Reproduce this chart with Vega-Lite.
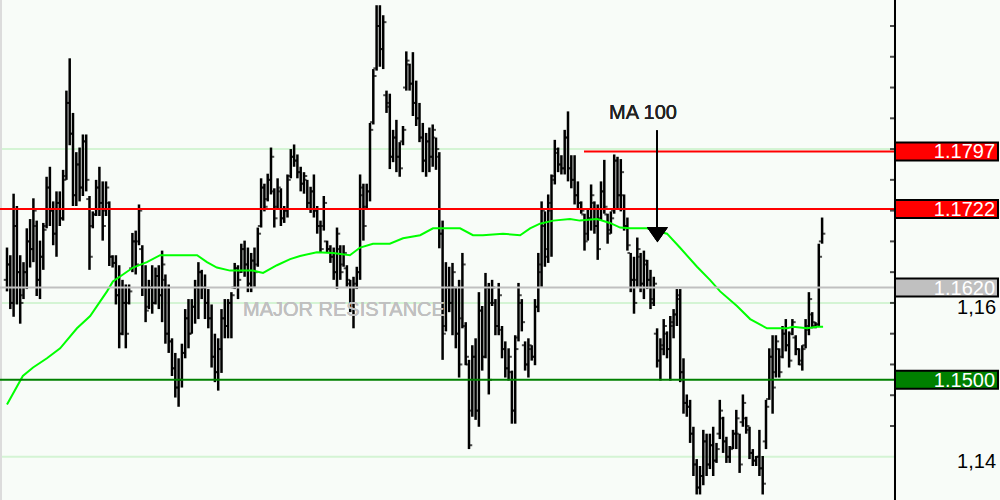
{
"$schema": "https://vega.github.io/schema/vega-lite/v6.json",
"width": 1000, "height": 500, "autosize": {"type": "none"}, "padding": 0,
"background": "#f8fcf8",
"config": {"view": {"stroke": null}, "font": "Liberation Sans"},
"datasets": {
"grid": [{"v":1.14},{"v":1.16},{"v":1.18}],
"axisticks": [{"v":1.144},{"v":1.148},{"v":1.152},{"v":1.156},{"v":1.16},{"v":1.164},{"v":1.168},{"v":1.172},{"v":1.176},{"v":1.18},{"v":1.184},{"v":1.188},{"v":1.192},{"v":1.196}],
"axislabels": [{"v":1.14},{"v":1.16}],
"levels": [{"name":"r2","v":1.1797},{"name":"r1","v":1.1722},{"name":"major","v":1.1620},{"name":"sup","v":1.1500}],
"ma": [{"t":0,"v":1.1468},{"t":4.8,"v":1.1505},{"t":7.9,"v":1.1516},{"t":12.1,"v":1.1528},{"t":16.1,"v":1.1541},{"t":21.2,"v":1.1567},{"t":25.2,"v":1.1583},{"t":30.3,"v":1.1615},{"t":32.1,"v":1.1628},{"t":38.2,"v":1.1646},{"t":42.4,"v":1.1653},{"t":46.4,"v":1.1662},{"t":57.6,"v":1.1662},{"t":60.6,"v":1.1653},{"t":63.6,"v":1.1646},{"t":67.6,"v":1.1642},{"t":74.5,"v":1.1642},{"t":77.6,"v":1.1639},{"t":81.8,"v":1.1649},{"t":85.8,"v":1.1657},{"t":88.8,"v":1.1661},{"t":93.9,"v":1.1666},{"t":98.8,"v":1.1665},{"t":103.9,"v":1.1662},{"t":107,"v":1.1672},{"t":110.9,"v":1.1677},{"t":116,"v":1.1677},{"t":120,"v":1.1684},{"t":125.2,"v":1.1688},{"t":129.1,"v":1.1697},{"t":137.3,"v":1.1697},{"t":141.2,"v":1.1688},{"t":144.2,"v":1.1688},{"t":150.3,"v":1.1690},{"t":155.5,"v":1.1688},{"t":158.5,"v":1.1697},{"t":161.5,"v":1.1703},{"t":165.5,"v":1.1707},{"t":170.6,"v":1.1709},{"t":173.6,"v":1.1707},{"t":178.8,"v":1.1709},{"t":182.7,"v":1.1704},{"t":185.8,"v":1.1698},{"t":188.8,"v":1.1697},{"t":193.9,"v":1.1697},{"t":200,"v":1.1690},{"t":203.9,"v":1.1672},{"t":209.1,"v":1.1647},{"t":213,"v":1.1630},{"t":216.1,"v":1.1615},{"t":221.2,"v":1.1596},{"t":225.2,"v":1.1579},{"t":230.3,"v":1.1567},{"t":236.4,"v":1.1567},{"t":238.2,"v":1.1569},{"t":242.4,"v":1.1567},{"t":245.5,"v":1.1569},{"t":247.3,"v":1.1569}],
"bars": [
{"i":0,"o":1.1630,"h":1.1672,"l":1.1615,"c":1.1650},
{"i":1,"o":1.1650,"h":1.1662,"l":1.1592,"c":1.1600},
{"i":2,"o":1.1600,"h":1.1742,"l":1.1582,"c":1.1700},
{"i":3,"o":1.1700,"h":1.1726,"l":1.1598,"c":1.1640},
{"i":4,"o":1.1640,"h":1.1662,"l":1.1573,"c":1.1600},
{"i":5,"o":1.1610,"h":1.1653,"l":1.1605,"c":1.1640},
{"i":6,"o":1.1640,"h":1.1697,"l":1.1618,"c":1.1680},
{"i":7,"o":1.1680,"h":1.1709,"l":1.1646,"c":1.1670},
{"i":8,"o":1.1670,"h":1.1736,"l":1.1653,"c":1.1720},
{"i":9,"o":1.1700,"h":1.1707,"l":1.1609,"c":1.1630},
{"i":10,"o":1.1630,"h":1.1681,"l":1.1605,"c":1.1660},
{"i":11,"o":1.1660,"h":1.1704,"l":1.1643,"c":1.1695},
{"i":12,"o":1.1700,"h":1.1764,"l":1.1697,"c":1.1750},
{"i":13,"o":1.1750,"h":1.1777,"l":1.1700,"c":1.1720},
{"i":14,"o":1.1720,"h":1.1732,"l":1.1675,"c":1.1690},
{"i":15,"o":1.1690,"h":1.1745,"l":1.1660,"c":1.1730},
{"i":16,"o":1.1730,"h":1.1745,"l":1.1700,"c":1.1710},
{"i":17,"o":1.1710,"h":1.1773,"l":1.1707,"c":1.1760},
{"i":18,"o":1.1765,"h":1.1876,"l":1.1760,"c":1.1860},
{"i":19,"o":1.1860,"h":1.1918,"l":1.1805,"c":1.1820},
{"i":20,"o":1.1820,"h":1.1847,"l":1.1726,"c":1.1740},
{"i":21,"o":1.1740,"h":1.1796,"l":1.1726,"c":1.1780},
{"i":22,"o":1.1780,"h":1.1802,"l":1.1732,"c":1.1750},
{"i":23,"o":1.1750,"h":1.1819,"l":1.1739,"c":1.1810},
{"i":24,"o":1.1810,"h":1.1819,"l":1.1745,"c":1.1760},
{"i":25,"o":1.1735,"h":1.1739,"l":1.1643,"c":1.1660},
{"i":26,"o":1.1700,"h":1.1719,"l":1.1697,"c":1.1715},
{"i":27,"o":1.1715,"h":1.1760,"l":1.1713,"c":1.1750},
{"i":28,"o":1.1750,"h":1.1777,"l":1.1713,"c":1.1730},
{"i":29,"o":1.1730,"h":1.1758,"l":1.1681,"c":1.1700},
{"i":30,"o":1.1720,"h":1.1758,"l":1.1713,"c":1.1750},
{"i":31,"o":1.1730,"h":1.1732,"l":1.1648,"c":1.1660},
{"i":32,"o":1.1660,"h":1.1662,"l":1.1646,"c":1.1652},
{"i":33,"o":1.1652,"h":1.1662,"l":1.1598,"c":1.1610},
{"i":34,"o":1.1610,"h":1.1649,"l":1.1541,"c":1.1560},
{"i":35,"o":1.1560,"h":1.1630,"l":1.1558,"c":1.1600},
{"i":36,"o":1.1600,"h":1.1624,"l":1.1541,"c":1.1560},
{"i":37,"o":1.1600,"h":1.1624,"l":1.1598,"c":1.1615},
{"i":38,"o":1.1645,"h":1.1691,"l":1.1640,"c":1.1680},
{"i":39,"o":1.1680,"h":1.1694,"l":1.1637,"c":1.1650},
{"i":40,"o":1.1680,"h":1.1728,"l":1.1675,"c":1.1720},
{"i":41,"o":1.1670,"h":1.1675,"l":1.1609,"c":1.1620},
{"i":42,"o":1.1620,"h":1.1649,"l":1.1575,"c":1.1590},
{"i":43,"o":1.1595,"h":1.1630,"l":1.1592,"c":1.1620},
{"i":44,"o":1.1620,"h":1.1649,"l":1.1586,"c":1.1600},
{"i":45,"o":1.1600,"h":1.1646,"l":1.1598,"c":1.1635},
{"i":46,"o":1.1635,"h":1.1649,"l":1.1592,"c":1.1610},
{"i":47,"o":1.1610,"h":1.1668,"l":1.1575,"c":1.1650},
{"i":48,"o":1.1630,"h":1.1637,"l":1.1547,"c":1.1560},
{"i":49,"o":1.1560,"h":1.1624,"l":1.1535,"c":1.1550},
{"i":50,"o":1.1550,"h":1.1554,"l":1.1505,"c":1.1515},
{"i":51,"o":1.1515,"h":1.1535,"l":1.1477,"c":1.1490},
{"i":52,"o":1.1490,"h":1.1528,"l":1.1465,"c":1.1500},
{"i":53,"o":1.1500,"h":1.1547,"l":1.1490,"c":1.1535},
{"i":54,"o":1.1535,"h":1.1592,"l":1.1528,"c":1.1580},
{"i":55,"o":1.1580,"h":1.1605,"l":1.1541,"c":1.1560},
{"i":56,"o":1.1560,"h":1.1605,"l":1.1560,"c":1.1595},
{"i":57,"o":1.1595,"h":1.1630,"l":1.1573,"c":1.1620},
{"i":58,"o":1.1620,"h":1.1653,"l":1.1579,"c":1.1640},
{"i":59,"o":1.1640,"h":1.1643,"l":1.1605,"c":1.1620},
{"i":60,"o":1.1620,"h":1.1637,"l":1.1579,"c":1.1600},
{"i":61,"o":1.1600,"h":1.1618,"l":1.1567,"c":1.1580},
{"i":62,"o":1.1580,"h":1.1598,"l":1.1516,"c":1.1530},
{"i":63,"o":1.1530,"h":1.1560,"l":1.1497,"c":1.1510},
{"i":64,"o":1.1510,"h":1.1554,"l":1.1486,"c":1.1540},
{"i":65,"o":1.1540,"h":1.1592,"l":1.1509,"c":1.1580},
{"i":66,"o":1.1580,"h":1.1605,"l":1.1554,"c":1.1570},
{"i":67,"o":1.1570,"h":1.1605,"l":1.1554,"c":1.1600},
{"i":68,"o":1.1600,"h":1.1614,"l":1.1554,"c":1.1610},
{"i":69,"o":1.1620,"h":1.1652,"l":1.1618,"c":1.1645},
{"i":70,"o":1.1645,"h":1.1649,"l":1.1605,"c":1.1630},
{"i":71,"o":1.1640,"h":1.1677,"l":1.1639,"c":1.1670},
{"i":72,"o":1.1670,"h":1.1681,"l":1.1634,"c":1.1650},
{"i":73,"o":1.1650,"h":1.1672,"l":1.1614,"c":1.1625},
{"i":74,"o":1.1625,"h":1.1665,"l":1.1614,"c":1.1655},
{"i":75,"o":1.1655,"h":1.1672,"l":1.1621,"c":1.1640},
{"i":76,"o":1.1650,"h":1.1698,"l":1.1647,"c":1.1690},
{"i":77,"o":1.1700,"h":1.1762,"l":1.1698,"c":1.1750},
{"i":78,"o":1.1750,"h":1.1755,"l":1.1719,"c":1.1725},
{"i":79,"o":1.1735,"h":1.1768,"l":1.1732,"c":1.1760},
{"i":80,"o":1.1760,"h":1.1802,"l":1.1741,"c":1.1790},
{"i":81,"o":1.1745,"h":1.1749,"l":1.1698,"c":1.1710},
{"i":82,"o":1.1725,"h":1.1762,"l":1.1723,"c":1.1750},
{"i":83,"o":1.1745,"h":1.1749,"l":1.1700,"c":1.1710},
{"i":84,"o":1.1710,"h":1.1726,"l":1.1704,"c":1.1720},
{"i":85,"o":1.1720,"h":1.1767,"l":1.1711,"c":1.1760},
{"i":86,"o":1.1765,"h":1.1800,"l":1.1762,"c":1.1790},
{"i":87,"o":1.1790,"h":1.1806,"l":1.1777,"c":1.1785},
{"i":88,"o":1.1785,"h":1.1793,"l":1.1762,"c":1.1770},
{"i":89,"o":1.1770,"h":1.1777,"l":1.1745,"c":1.1755},
{"i":90,"o":1.1755,"h":1.1770,"l":1.1742,"c":1.1765},
{"i":91,"o":1.1760,"h":1.1760,"l":1.1723,"c":1.1730},
{"i":92,"o":1.1730,"h":1.1751,"l":1.1717,"c":1.1745},
{"i":93,"o":1.1745,"h":1.1767,"l":1.1711,"c":1.1720},
{"i":94,"o":1.1720,"h":1.1726,"l":1.1690,"c":1.1700},
{"i":95,"o":1.1700,"h":1.1707,"l":1.1665,"c":1.1670},
{"i":96,"o":1.1700,"h":1.1739,"l":1.1694,"c":1.1730},
{"i":97,"o":1.1680,"h":1.1681,"l":1.1665,"c":1.1670},
{"i":98,"o":1.1670,"h":1.1675,"l":1.1652,"c":1.1660},
{"i":99,"o":1.1660,"h":1.1672,"l":1.1630,"c":1.1640},
{"i":100,"o":1.1640,"h":1.1698,"l":1.1618,"c":1.1690},
{"i":101,"o":1.1670,"h":1.1675,"l":1.1630,"c":1.1640},
{"i":102,"o":1.1650,"h":1.1675,"l":1.1647,"c":1.1665},
{"i":103,"o":1.1645,"h":1.1649,"l":1.1621,"c":1.1630},
{"i":104,"o":1.1625,"h":1.1630,"l":1.1588,"c":1.1600},
{"i":105,"o":1.1600,"h":1.1634,"l":1.1567,"c":1.1620},
{"i":106,"o":1.1625,"h":1.1647,"l":1.1618,"c":1.1640},
{"i":107,"o":1.1640,"h":1.1767,"l":1.1630,"c":1.1750},
{"i":108,"o":1.1740,"h":1.1755,"l":1.1681,"c":1.1700},
{"i":109,"o":1.1725,"h":1.1755,"l":1.1723,"c":1.1745},
{"i":110,"o":1.1745,"h":1.1834,"l":1.1732,"c":1.1825},
{"i":111,"o":1.1835,"h":1.1904,"l":1.1832,"c":1.1895},
{"i":112,"o":1.1905,"h":1.1987,"l":1.1902,"c":1.1960},
{"i":113,"o":1.1960,"h":1.1987,"l":1.1907,"c":1.1930},
{"i":114,"o":1.1930,"h":1.1974,"l":1.1904,"c":1.1965},
{"i":115,"o":1.1870,"h":1.1876,"l":1.1847,"c":1.1855},
{"i":116,"o":1.1860,"h":1.1872,"l":1.1774,"c":1.1790},
{"i":117,"o":1.1790,"h":1.1825,"l":1.1783,"c":1.1815},
{"i":118,"o":1.1815,"h":1.1838,"l":1.1770,"c":1.1790},
{"i":119,"o":1.1790,"h":1.1809,"l":1.1764,"c":1.1775},
{"i":120,"o":1.1810,"h":1.1830,"l":1.1805,"c":1.1825},
{"i":121,"o":1.1880,"h":1.1927,"l":1.1876,"c":1.1915},
{"i":122,"o":1.1910,"h":1.1911,"l":1.1876,"c":1.1885},
{"i":123,"o":1.1885,"h":1.1926,"l":1.1843,"c":1.1860},
{"i":124,"o":1.1860,"h":1.1889,"l":1.1830,"c":1.1840},
{"i":125,"o":1.1840,"h":1.1860,"l":1.1809,"c":1.1815},
{"i":126,"o":1.1815,"h":1.1834,"l":1.1770,"c":1.1785},
{"i":127,"o":1.1785,"h":1.1821,"l":1.1764,"c":1.1810},
{"i":128,"o":1.1810,"h":1.1828,"l":1.1770,"c":1.1790},
{"i":129,"o":1.1790,"h":1.1832,"l":1.1777,"c":1.1825},
{"i":130,"o":1.1815,"h":1.1815,"l":1.1773,"c":1.1800},
{"i":131,"o":1.1790,"h":1.1796,"l":1.1671,"c":1.1690},
{"i":132,"o":1.1690,"h":1.1707,"l":1.1526,"c":1.1560},
{"i":133,"o":1.1570,"h":1.1653,"l":1.1563,"c":1.1620},
{"i":134,"o":1.1620,"h":1.1647,"l":1.1588,"c":1.1600},
{"i":135,"o":1.1600,"h":1.1652,"l":1.1558,"c":1.1640},
{"i":136,"o":1.1620,"h":1.1621,"l":1.1541,"c":1.1560},
{"i":137,"o":1.1560,"h":1.1630,"l":1.1503,"c":1.1520},
{"i":138,"o":1.1580,"h":1.1665,"l":1.1567,"c":1.1650},
{"i":139,"o":1.1570,"h":1.1575,"l":1.1519,"c":1.1530},
{"i":140,"o":1.1520,"h":1.1526,"l":1.1410,"c":1.1415},
{"i":141,"o":1.1460,"h":1.1545,"l":1.1452,"c":1.1530},
{"i":142,"o":1.1530,"h":1.1554,"l":1.1448,"c":1.1460},
{"i":143,"o":1.1460,"h":1.1614,"l":1.1439,"c":1.1590},
{"i":144,"o":1.1590,"h":1.1596,"l":1.1512,"c":1.1530},
{"i":145,"o":1.1530,"h":1.1639,"l":1.1528,"c":1.1620},
{"i":146,"o":1.1620,"h":1.1626,"l":1.1481,"c":1.1500},
{"i":147,"o":1.1600,"h":1.1630,"l":1.1596,"c":1.1620},
{"i":148,"o":1.1600,"h":1.1605,"l":1.1558,"c":1.1570},
{"i":149,"o":1.1570,"h":1.1626,"l":1.1558,"c":1.1610},
{"i":150,"o":1.1565,"h":1.1570,"l":1.1528,"c":1.1540},
{"i":151,"o":1.1540,"h":1.1550,"l":1.1503,"c":1.1515},
{"i":152,"o":1.1515,"h":1.1541,"l":1.1499,"c":1.1530},
{"i":153,"o":1.1510,"h":1.1512,"l":1.1443,"c":1.1460},
{"i":154,"o":1.1460,"h":1.1558,"l":1.1443,"c":1.1540},
{"i":155,"o":1.1555,"h":1.1626,"l":1.1550,"c":1.1610},
{"i":156,"o":1.1600,"h":1.1605,"l":1.1563,"c":1.1575},
{"i":157,"o":1.1545,"h":1.1550,"l":1.1512,"c":1.1520},
{"i":158,"o":1.1520,"h":1.1554,"l":1.1503,"c":1.1545},
{"i":159,"o":1.1540,"h":1.1545,"l":1.1525,"c":1.1530},
{"i":160,"o":1.1530,"h":1.1605,"l":1.1519,"c":1.1595},
{"i":161,"o":1.1595,"h":1.1665,"l":1.1588,"c":1.1650},
{"i":162,"o":1.1640,"h":1.1732,"l":1.1621,"c":1.1720},
{"i":163,"o":1.1700,"h":1.1719,"l":1.1647,"c":1.1660},
{"i":164,"o":1.1670,"h":1.1741,"l":1.1652,"c":1.1730},
{"i":165,"o":1.1720,"h":1.1767,"l":1.1660,"c":1.1760},
{"i":166,"o":1.1765,"h":1.1812,"l":1.1754,"c":1.1800},
{"i":167,"o":1.1795,"h":1.1802,"l":1.1770,"c":1.1780},
{"i":168,"o":1.1780,"h":1.1792,"l":1.1767,"c":1.1775},
{"i":169,"o":1.1775,"h":1.1825,"l":1.1767,"c":1.1815},
{"i":170,"o":1.1815,"h":1.1849,"l":1.1758,"c":1.1775},
{"i":171,"o":1.1775,"h":1.1792,"l":1.1749,"c":1.1760},
{"i":172,"o":1.1760,"h":1.1792,"l":1.1728,"c":1.1740},
{"i":173,"o":1.1740,"h":1.1758,"l":1.1723,"c":1.1730},
{"i":174,"o":1.1730,"h":1.1732,"l":1.1716,"c":1.1720},
{"i":175,"o":1.1715,"h":1.1716,"l":1.1668,"c":1.1680},
{"i":176,"o":1.1690,"h":1.1723,"l":1.1681,"c":1.1710},
{"i":177,"o":1.1710,"h":1.1754,"l":1.1694,"c":1.1740},
{"i":178,"o":1.1730,"h":1.1732,"l":1.1690,"c":1.1700},
{"i":179,"o":1.1700,"h":1.1728,"l":1.1656,"c":1.1670},
{"i":180,"o":1.1710,"h":1.1758,"l":1.1707,"c":1.1745},
{"i":181,"o":1.1745,"h":1.1786,"l":1.1716,"c":1.1725},
{"i":182,"o":1.1715,"h":1.1716,"l":1.1677,"c":1.1690},
{"i":183,"o":1.1695,"h":1.1719,"l":1.1690,"c":1.1710},
{"i":184,"o":1.1720,"h":1.1793,"l":1.1716,"c":1.1785},
{"i":185,"o":1.1785,"h":1.1790,"l":1.1723,"c":1.1740},
{"i":186,"o":1.1740,"h":1.1787,"l":1.1719,"c":1.1770},
{"i":187,"o":1.1740,"h":1.1741,"l":1.1694,"c":1.1700},
{"i":188,"o":1.1700,"h":1.1711,"l":1.1668,"c":1.1675},
{"i":189,"o":1.1665,"h":1.1665,"l":1.1614,"c":1.1630},
{"i":190,"o":1.1630,"h":1.1660,"l":1.1586,"c":1.1600},
{"i":191,"o":1.1630,"h":1.1685,"l":1.1621,"c":1.1670},
{"i":192,"o":1.1660,"h":1.1665,"l":1.1614,"c":1.1625},
{"i":193,"o":1.1625,"h":1.1668,"l":1.1605,"c":1.1655},
{"i":194,"o":1.1650,"h":1.1656,"l":1.1618,"c":1.1630},
{"i":195,"o":1.1630,"h":1.1643,"l":1.1592,"c":1.1600},
{"i":196,"o":1.1605,"h":1.1634,"l":1.1596,"c":1.1625},
{"i":197,"o":1.1560,"h":1.1567,"l":1.1516,"c":1.1525},
{"i":198,"o":1.1525,"h":1.1554,"l":1.1499,"c":1.1545},
{"i":199,"o":1.1540,"h":1.1579,"l":1.1532,"c":1.1570},
{"i":200,"o":1.1560,"h":1.1563,"l":1.1528,"c":1.1540},
{"i":201,"o":1.1540,"h":1.1583,"l":1.1499,"c":1.1575},
{"i":202,"o":1.1570,"h":1.1592,"l":1.1554,"c":1.1585},
{"i":203,"o":1.1585,"h":1.1618,"l":1.1570,"c":1.1610},
{"i":204,"o":1.1605,"h":1.1618,"l":1.1497,"c":1.1510},
{"i":205,"o":1.1510,"h":1.1528,"l":1.1456,"c":1.1470},
{"i":206,"o":1.1470,"h":1.1481,"l":1.1452,"c":1.1465},
{"i":207,"o":1.1465,"h":1.1474,"l":1.1418,"c":1.1430},
{"i":208,"o":1.1430,"h":1.1439,"l":1.1375,"c":1.1390},
{"i":209,"o":1.1390,"h":1.1397,"l":1.1351,"c":1.1360},
{"i":210,"o":1.1360,"h":1.1388,"l":1.1351,"c":1.1375},
{"i":211,"o":1.1375,"h":1.1435,"l":1.1363,"c":1.1420},
{"i":212,"o":1.1420,"h":1.1430,"l":1.1375,"c":1.1390},
{"i":213,"o":1.1390,"h":1.1430,"l":1.1384,"c":1.1415},
{"i":214,"o":1.1415,"h":1.1439,"l":1.1375,"c":1.1395},
{"i":215,"o":1.1395,"h":1.1418,"l":1.1392,"c":1.1410},
{"i":216,"o":1.1430,"h":1.1474,"l":1.1423,"c":1.1460},
{"i":217,"o":1.1450,"h":1.1452,"l":1.1405,"c":1.1420},
{"i":218,"o":1.1420,"h":1.1426,"l":1.1392,"c":1.1400},
{"i":219,"o":1.1400,"h":1.1414,"l":1.1392,"c":1.1410},
{"i":220,"o":1.1412,"h":1.1435,"l":1.1410,"c":1.1430},
{"i":221,"o":1.1430,"h":1.1461,"l":1.1410,"c":1.1450},
{"i":222,"o":1.1430,"h":1.1430,"l":1.1379,"c":1.1390},
{"i":223,"o":1.1445,"h":1.1481,"l":1.1439,"c":1.1470},
{"i":224,"o":1.1450,"h":1.1452,"l":1.1430,"c":1.1440},
{"i":225,"o":1.1435,"h":1.1439,"l":1.1397,"c":1.1405},
{"i":226,"o":1.1405,"h":1.1410,"l":1.1388,"c":1.1395},
{"i":227,"o":1.1395,"h":1.1401,"l":1.1388,"c":1.1400},
{"i":228,"o":1.1400,"h":1.1435,"l":1.1375,"c":1.1385},
{"i":229,"o":1.1385,"h":1.1401,"l":1.1351,"c":1.1365},
{"i":230,"o":1.1420,"h":1.1474,"l":1.1410,"c":1.1465},
{"i":231,"o":1.1475,"h":1.1541,"l":1.1474,"c":1.1530},
{"i":232,"o":1.1530,"h":1.1558,"l":1.1456,"c":1.1490},
{"i":233,"o":1.1510,"h":1.1558,"l":1.1503,"c":1.1550},
{"i":234,"o":1.1540,"h":1.1541,"l":1.1503,"c":1.1510},
{"i":235,"o":1.1530,"h":1.1570,"l":1.1528,"c":1.1560},
{"i":236,"o":1.1560,"h":1.1579,"l":1.1537,"c":1.1545},
{"i":237,"o":1.1545,"h":1.1563,"l":1.1516,"c":1.1525},
{"i":238,"o":1.1560,"h":1.1579,"l":1.1558,"c":1.1575},
{"i":239,"o":1.1555,"h":1.1558,"l":1.1532,"c":1.1540},
{"i":240,"o":1.1540,"h":1.1541,"l":1.1519,"c":1.1525},
{"i":241,"o":1.1520,"h":1.1545,"l":1.1512,"c":1.1540},
{"i":242,"o":1.1545,"h":1.1579,"l":1.1541,"c":1.1570},
{"i":243,"o":1.1565,"h":1.1614,"l":1.1558,"c":1.1605},
{"i":244,"o":1.1585,"h":1.1588,"l":1.1567,"c":1.1575},
{"i":245,"o":1.1570,"h":1.1575,"l":1.1567,"c":1.1572},
{"i":246,"o":1.1572,"h":1.1677,"l":1.1570,"c":1.1660},
{"i":247,"o":1.1680,"h":1.1711,"l":1.1677,"c":1.1690}
]
},
"layer": [
{"data": {"name": "grid"},
 "mark": {"type": "rule", "color": "#d4f4d4", "strokeWidth": 2},
 "encoding": {
  "x": {"datum": -2.1212, "scale": {"domain": [-2.1212, 300.9091], "nice": false, "zero": false}, "axis": null},
  "x2": {"datum": 269.09},
  "y": {"field": "v", "type": "quantitative", "scale": {"domain": [1.13503, 1.19873], "nice": false, "zero": false}, "axis": null}
 }},
{"data": {"name": "grid"},
 "mark": {"type": "rule", "color": "#dcdcdc", "strokeWidth": 2},
 "encoding": {"x": {"datum": -1.818}}},
{"data": {"name": "bars"},
 "mark": {"type": "rule", "color": "#000000", "strokeWidth": 2.5},
 "encoding": {
  "x": {"field": "i", "type": "quantitative"},
  "y": {"field": "h", "type": "quantitative", "axis": null},
  "y2": {"field": "l"}}},
{"data": {"name": "bars"},
 "mark": {"type": "tick", "orient": "horizontal", "color": "#000000", "size": 2.5, "thickness": 2, "xOffset": -2},
 "encoding": {
  "x": {"field": "i", "type": "quantitative"},
  "y": {"field": "o", "type": "quantitative", "axis": null}}},
{"data": {"name": "bars"},
 "mark": {"type": "tick", "orient": "horizontal", "color": "#000000", "size": 2.5, "thickness": 2, "xOffset": 2},
 "encoding": {
  "x": {"field": "i", "type": "quantitative"},
  "y": {"field": "c", "type": "quantitative", "axis": null}}},
{"data": {"name": "ma"},
 "mark": {"type": "line", "color": "#00ff00", "strokeWidth": 2},
 "encoding": {
  "x": {"field": "t", "type": "quantitative"},
  "y": {"field": "v", "type": "quantitative", "axis": null}}},
{"data": {"name": "levels"},
 "transform": [{"filter": "datum.name != 'r2'"}],
 "mark": {"type": "rule"},
 "encoding": {
  "x": {"datum": -2.1212}, "x2": {"datum": 269.09},
  "y": {"field": "v", "type": "quantitative", "axis": null},
  "color": {"field": "name", "type": "nominal", "scale": {"domain": ["r2","r1","major","sup"], "range": ["#ff0000","#ff0000","#c0c0c0","#008000"]}, "legend": null},
  "strokeWidth": {"field": "name", "type": "nominal", "scale": {"domain": ["r2","r1","major","sup"], "range": [2,2,4,2]}, "legend": null}}},
{"data": {"name": "levels"},
 "transform": [{"filter": "datum.name == 'r2'"}],
 "mark": {"type": "rule", "color": "#ff0000", "strokeWidth": 2},
 "encoding": {
  "x": {"datum": 174.85}, "x2": {"datum": 269.09},
  "y": {"field": "v", "type": "quantitative", "axis": null}}},
{"data": {"name": "grid"},
 "mark": {"type": "rule", "color": "#000000", "strokeWidth": 2},
 "encoding": {"x": {"datum": 269.09}}},
{"data": {"name": "axisticks"},
 "mark": {"type": "tick", "orient": "horizontal", "color": "#000000", "size": 5, "thickness": 2, "xOffset": -2.5},
 "encoding": {
  "x": {"datum": 269.09},
  "y": {"field": "v", "type": "quantitative", "axis": null}}},
{"data": {"name": "axislabels"},
 "transform": [{"calculate": "replace(format(datum.v, '.2f'), '.', ',')", "as": "lab"}],
 "mark": {"type": "text", "align": "right", "baseline": "middle", "color": "#000000", "fontSize": 20, "font": "Liberation Sans", "dy": 5},
 "encoding": {
  "x": {"datum": 299.7},
  "y": {"field": "v", "type": "quantitative", "axis": null},
  "text": {"field": "lab", "type": "nominal"}}},
{"data": {"name": "levels"},
 "mark": {"type": "bar", "size": 18, "stroke": "#000000", "strokeWidth": 2, "orient": "horizontal"},
 "encoding": {
  "x": {"datum": 269.09}, "x2": {"datum": 300.3},
  "y": {"field": "v", "type": "quantitative", "axis": null},
  "fill": {"field": "name", "type": "nominal", "scale": {"domain": ["r2","r1","major","sup"], "range": ["#ff0000","#ff0000","#c0c0c0","#008000"]}, "legend": null}}},
{"data": {"name": "levels"},
 "mark": {"type": "text", "align": "right", "baseline": "middle", "color": "#ffffff", "fontSize": 20, "font": "Liberation Sans", "dy": 1},
 "encoding": {
  "x": {"datum": 299.4},
  "y": {"field": "v", "type": "quantitative", "axis": null},
  "text": {"field": "v", "type": "quantitative", "format": ".4f"}}},
{"data": {"name": "grid"},
 "mark": {"type": "rule", "color": "#000000", "strokeWidth": 2},
 "encoding": {"x": {"datum": 196.97}, "y": {"datum": 1.18242}, "y2": {"datum": 1.16918}}},
{"data": {"name": "grid"},
 "mark": {"type": "point", "shape": "M-1,-0.72L1,-0.72L0,0.72Z", "filled": true, "color": "#000000", "size": 441, "opacity": 1},
 "encoding": {"x": {"datum": 197.1}, "y": {"datum": 1.16886}}},
{"data": {"name": "grid"},
 "mark": {"type": "text", "align": "center", "baseline": "middle", "color": "#222222", "fontSize": 20, "font": "Liberation Sans"},
 "encoding": {"x": {"datum": 192.73}, "y": {"datum": 1.18465}, "text": {"value": "MA 100"}}},
{"data": {"name": "grid"},
 "mark": {"type": "text", "align": "left", "baseline": "middle", "color": "#c0c0c0", "fontSize": 20, "font": "Liberation Sans"},
 "encoding": {"x": {"datum": 71.52}, "y": {"datum": 1.15911}, "text": {"value": "MAJOR RESISTANCE"}}}
]
}
